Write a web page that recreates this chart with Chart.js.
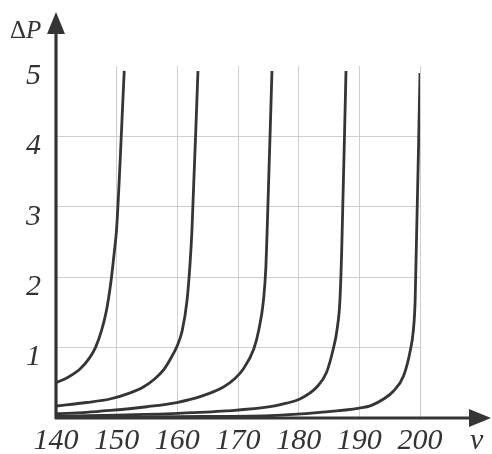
<!DOCTYPE html>
<html>
<head>
<meta charset="utf-8">
<script src="https://cdn.jsdelivr.net/npm/chart.js@4/dist/chart.umd.min.js"></script>
<style>
  html, body { margin: 0; padding: 0; background: #fff; }
  #wrap { width: 492px; height: 454px; }
</style>
</head>
<body>
<div id="wrap"><canvas id="c" width="492" height="454"></canvas></div>
<script>
// Tick labels
const xTicks = [140, 150, 160, 170, 180, 190, 200];
const yTicks = [1, 2, 3, 4, 5];

// Curve 1
const v1 = [140, 142, 144, 145.5, 146.5, 147.5, 148.3, 149.0, 149.6, 150.0, 151.25];
const p1 = [0.50, 0.58, 0.70, 0.85, 1.00, 1.24, 1.52, 1.90, 2.35, 2.70, 4.93];
// Curve 2
const v2 = [140, 145, 148.9, 152, 154.4, 156.2, 157.7, 159.0, 160.0, 160.8, 161.6, 162.1, 162.4, 163.4];
const p2 = [0.17, 0.22, 0.27, 0.35, 0.44, 0.55, 0.68, 0.86, 1.03, 1.24, 1.67, 2.20, 2.65, 4.93];
// Curve 3
const v3 = [140, 145, 148.9, 155, 159.9, 164, 167.6, 169.5, 170.9, 172.6, 173.4, 174.2, 174.6, 174.8, 175.6];
const p3 = [0.06, 0.08, 0.107, 0.16, 0.22, 0.31, 0.44, 0.56, 0.70, 0.98, 1.24, 1.67, 2.15, 2.65, 4.93];
// Curve 4
const v4 = [140, 150, 160, 168, 175.3, 178, 180.2, 183.0, 184.6, 185.7, 186.3, 186.8, 187.1, 187.8];
const p4 = [0.025, 0.04, 0.065, 0.10, 0.16, 0.21, 0.27, 0.44, 0.65, 0.98, 1.24, 1.67, 2.40, 4.93];
// Curve 5
const v5 = [140, 160, 175.3, 183.5, 190.0, 192.0, 194.0, 195.6, 197.3, 198.4, 198.9, 199.2, 200.0];
const p5 = [0.01, 0.02, 0.035, 0.08, 0.14, 0.18, 0.27, 0.38, 0.60, 0.96, 1.24, 1.67, 4.90];

const curves = [[v1, p1], [v2, p2], [v3, p3], [v4, p4], [v5, p5]];

const INK = '#353535';
const GRID = '#cfcfcf';

const axesPlugin = {
  id: 'axesArrows',
  afterDatasetsDraw(chart) {
    const ctx = chart.ctx;
    const xs = chart.scales.x, ys = chart.scales.y;
    const x0 = xs.getPixelForValue(140);
    const y0 = ys.getPixelForValue(0);
    const yTop = ys.getPixelForValue(5) - 54;
    const xEnd = xs.getPixelForValue(200) + 71;
    ctx.save();
    ctx.strokeStyle = INK;
    ctx.fillStyle = INK;
    ctx.lineWidth = 3.2;
    ctx.beginPath();
    ctx.moveTo(x0, y0 + 1);
    ctx.lineTo(x0, yTop + 18);
    ctx.moveTo(x0 - 1, y0);
    ctx.lineTo(xEnd - 18, y0);
    ctx.stroke();
    // y arrow
    ctx.beginPath();
    ctx.moveTo(x0, yTop);
    ctx.lineTo(x0 + 9, yTop + 22);
    ctx.lineTo(x0 - 9, yTop + 22);
    ctx.closePath();
    ctx.fill();
    // x arrow
    ctx.beginPath();
    ctx.moveTo(xEnd, y0);
    ctx.lineTo(xEnd - 22, y0 - 9);
    ctx.lineTo(xEnd - 22, y0 + 9);
    ctx.closePath();
    ctx.fill();
    // axis titles
    ctx.fillStyle = '#333';
    ctx.textBaseline = 'alphabetic';
    ctx.textAlign = 'left';
    ctx.font = '25px "Liberation Serif"';
    ctx.fillText('Δ', x0 - 46, yTop + 26);
    const dw = ctx.measureText('Δ').width;
    ctx.font = 'italic 25px "Liberation Serif"';
    ctx.fillText('P', x0 - 46 + dw, yTop + 26);
    ctx.font = 'italic 30px "Liberation Serif"';
    ctx.fillText('v', xEnd - 21, y0 + 31);
    ctx.restore();
  }
};

new Chart(document.getElementById('c'), {
  type: 'line',
  data: {
    datasets: curves.map(([v, p]) => ({
      data: v.map((x, i) => ({ x: x, y: p[i] })),
      borderColor: INK,
      borderWidth: 2.8,
      pointRadius: 0,
      fill: false,
      cubicInterpolationMode: 'monotone'
    }))
  },
  options: {
    responsive: false,
    animation: false,
    events: [],
    layout: { padding: { left: 0, right: 72, top: 66, bottom: 0 } },
    plugins: { legend: { display: false }, tooltip: { enabled: false } },
    scales: {
      x: {
        type: 'linear',
        min: xTicks[0],
        max: xTicks[xTicks.length - 1],
        afterFit(s) { s.height = 36; },
        afterBuildTicks(s) { s.ticks = xTicks.map(v => ({ value: v })); },
        border: { display: false },
        grid: {
          drawTicks: false,
          lineWidth: 1,
          color: c => (c.tick && c.tick.value === 140) ? 'rgba(0,0,0,0)' : GRID
        },
        ticks: {
          padding: 5,
          maxRotation: 0,
          autoSkip: false,
          color: '#333',
          font: { family: 'Liberation Serif', style: 'italic', size: 30 }
        }
      },
      y: {
        type: 'linear',
        min: 0,
        max: 5,
        afterFit(s) { s.width = 56; },
        afterBuildTicks(s) { s.ticks = [0].concat(yTicks).map(v => ({ value: v })); },
        border: { display: false },
        grid: {
          drawTicks: false,
          lineWidth: 1,
          color: c => (c.tick && (c.tick.value === 0 || c.tick.value === 5)) ? 'rgba(0,0,0,0)' : GRID
        },
        ticks: {
          padding: 15,
          labelOffset: 10,
          color: '#333',
          callback: v => (v === 0 ? '' : String(v)),
          font: { family: 'Liberation Serif', style: 'italic', size: 30 }
        }
      }
    }
  },
  plugins: [axesPlugin]
});
</script>
</body>
</html>
